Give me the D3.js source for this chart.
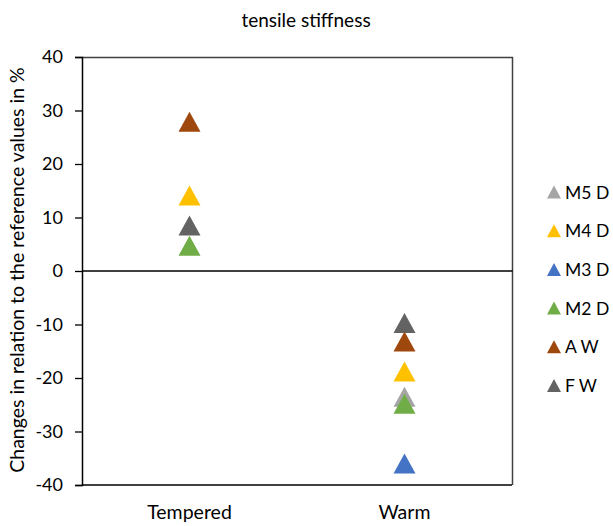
<!DOCTYPE html>
<html>
<head>
<meta charset="utf-8">
<script src="https://cdn.jsdelivr.net/npm/d3@7"></script>
<style>
  body { margin: 0; background: #fff; }
  text { font-family: Lato, "Open Sans", sans-serif; fill: #000; }
</style>
</head>
<body>
<div id="chart"></div>
<script>
// categories and y ticks
var categories = ["Tempered", "Warm"];
var yTicks = [-40, -30, -20, -10, 0, 10, 20, 30, 40];

// series (legend order), values per category, null = not shown
var seriesNames = ["M5 D", "M4 D", "M3 D", "M2 D", "A W", "F W"];
var seriesColors = ["#A5A5A5", "#FFC000", "#4472C4", "#70AD47", "#9E480E", "#636363"];
var m5d = [null, -23.5];
var m4d = [14.1, -18.8];
var m3d = [null, -36];
var m2d = [4.7, -24.8];
var aw = [27.9, -13.2];
var fw = [8.5, -9.7];
var seriesValues = [m5d, m4d, m3d, m2d, aw, fw];
// order the markers get drawn in (later ones on top)
var drawOrder = [5, 0, 1, 2, 3, 4];

var width = 613, height = 526;
var margin = { left: 82, right: 101, top: 57, bottom: 41 };

var svg = d3.select("#chart").append("svg")
  .attr("width", width)
  .attr("height", height);

var x = d3.scaleBand()
  .domain(categories)
  .range([margin.left, width - margin.right]);

var y = d3.scaleLinear()
  .domain([-40, 40])
  .range([height - margin.bottom, margin.top]);

// title
svg.append("text")
  .attr("x", 306)
  .attr("y", 27)
  .attr("text-anchor", "middle")
  .style("font-size", "19px")
  .text("tensile stiffness");

// plot frame (top and right)
svg.append("path")
  .attr("d", "M" + margin.left + "," + (margin.top + 0.5) + "H" + (width - margin.right + 0.5) + "V" + (height - margin.bottom))
  .attr("fill", "none")
  .attr("stroke", "#404040")
  .attr("stroke-width", 1.5);

// bottom edge
svg.append("line")
  .attr("x1", margin.left).attr("x2", width - margin.right)
  .attr("y1", y(-40)).attr("y2", y(-40))
  .attr("stroke", "#000").attr("stroke-width", 1.3);

// zero line
svg.append("line")
  .attr("x1", margin.left).attr("x2", width - margin.right + 0.5)
  .attr("y1", y(0)).attr("y2", y(0))
  .attr("stroke", "#000").attr("stroke-width", 1.3);

// y axis (plain hyphen for negatives, like the original)
var yAxis = svg.append("g")
  .attr("transform", "translate(" + margin.left + ",0)")
  .call(d3.axisLeft(y).tickValues(yTicks).tickSize(7).tickPadding(12)
    .tickFormat(function(d) { return String(d); }));
yAxis.select(".domain").attr("stroke-width", 1.5);
yAxis.selectAll(".tick line").attr("stroke-width", 1.3);
yAxis.selectAll("text")
  .style("font-size", "18px")
  .style("font-family", "Lato, 'Open Sans', sans-serif");

// y axis title
svg.append("text")
  .attr("transform", "translate(24," + (y(0) - 1) + ") rotate(-90)")
  .attr("text-anchor", "middle")
  .style("font-size", "19.5px")
  .text("Changes in relation to the reference values in %");

// x labels
svg.selectAll(".xlab")
  .data(categories)
  .enter().append("text")
  .attr("class", "xlab")
  .attr("x", function(d) { return x(d) + x.bandwidth() / 2; })
  .attr("y", 519)
  .attr("text-anchor", "middle")
  .style("font-size", "19.5px")
  .text(function(d) { return d; });

// triangle marker centred on its box
function tri(w, h) {
  return "M0," + (-h / 2) + "L" + (w / 2) + "," + (h / 2) + "L" + (-w / 2) + "," + (h / 2) + "Z";
}

var points = [];
drawOrder.forEach(function(s) {
  seriesValues[s].forEach(function(v, i) {
    if (v !== null) points.push({ s: s, cat: categories[i], v: v });
  });
});

svg.selectAll(".pt")
  .data(points)
  .enter().append("path")
  .attr("class", "pt")
  .attr("d", tri(22, 20))
  .attr("transform", function(d) {
    return "translate(" + (x(d.cat) + x.bandwidth() / 2) + "," + y(d.v) + ")";
  })
  .attr("fill", function(d) { return seriesColors[d.s]; });

// legend
var legend = svg.selectAll(".leg")
  .data(seriesNames)
  .enter().append("g")
  .attr("class", "leg")
  .attr("transform", function(d, i) { return "translate(554," + (192 + i * 38.7) + ")"; });

legend.append("path")
  .attr("d", tri(14, 13))
  .attr("fill", function(d, i) { return seriesColors[i]; });

legend.append("text")
  .attr("x", 11)
  .attr("y", 6.5)
  .style("font-size", "17.5px")
  .text(function(d) { return d; });
</script>
</body>
</html>
